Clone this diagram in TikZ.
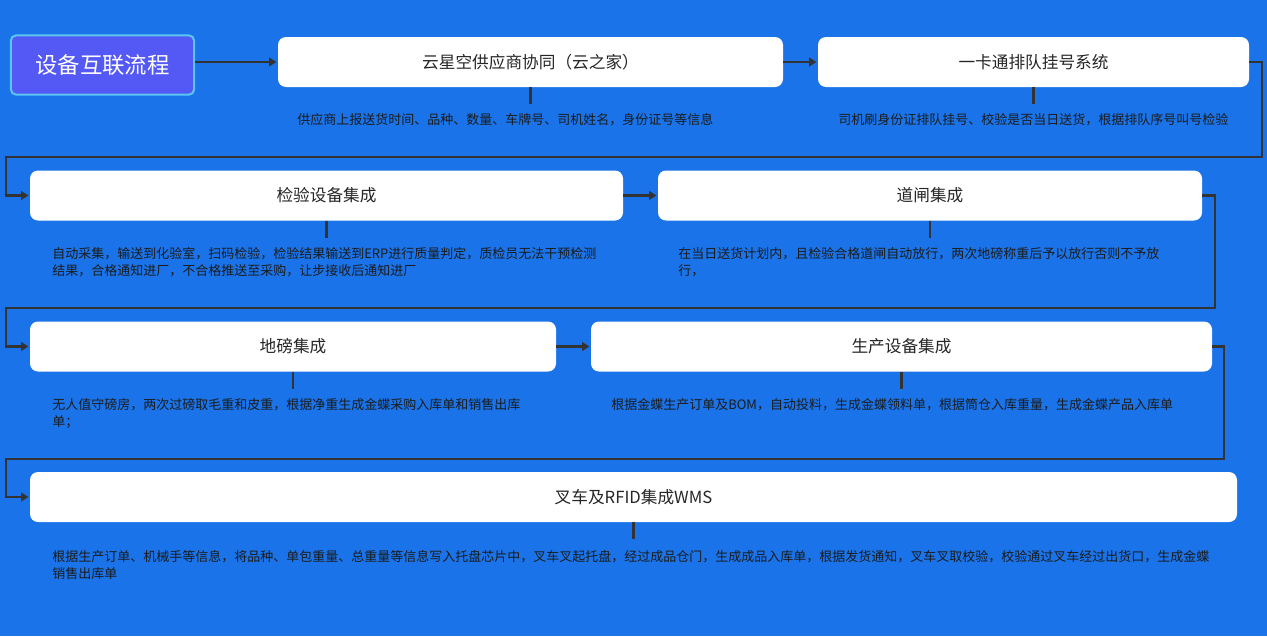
\documentclass[tikz,border=0pt]{standalone}
\usepackage{fontspec}
\setmainfont{Noto Sans CJK SC}
\usetikzlibrary{arrows.meta}
\definecolor{bgblue}{HTML}{1A73E8}
\definecolor{titlefill}{HTML}{5458F5}
\definecolor{titleedge}{HTML}{5CC6F2}
\definecolor{linegray}{HTML}{333333}
\definecolor{labelgray}{HTML}{262626}
\definecolor{descgray}{HTML}{1C1C1C}
\tikzset{
	procbox/.style={fill=white, rounded corners=6pt, minimum height=37.5pt, inner sep=0pt, text=labelgray, font=\fontsize{12.5}{14}\selectfont},
	titlebox/.style={fill=titlefill, draw=titleedge, line width=1.5pt, rounded corners=4pt, minimum width=137.5pt, minimum height=44.5pt, text=white, font=\fontsize{16.8}{20}\selectfont},
	desc/.style={anchor=west, align=left, inner sep=0pt, text=descgray, font=\fontsize{9.75}{13}\selectfont},
	flow/.style={draw=linegray, line width=2.2pt, shorten >=1pt, -{Triangle[length=5.5pt,width=6.5pt]}},
	stub/.style={draw=linegray, line width=2.2pt}
}
\begin{document}
\begin{tikzpicture}[x=0.75pt,y=-0.75pt]
			%Background
			\fill[bgblue] (0,0) rectangle (1267,636);
			\useasboundingbox (0,0) rectangle (1267,636);
			%Start node
			\coordinate (cTitle) at (102.5,65);
			\node[titlebox] (title) at (cTitle) {设备互联流程};
			%First row
			\coordinate (cCloud) at (530.5,62);
			\node[procbox, minimum width=378.75pt] (cloud) at (cCloud) {云星空供应商协同（云之家）};
			\coordinate (cQueue) at (1033.5,62);
			\node[procbox, minimum width=323.25pt] (queue) at (cQueue) {一卡通排队挂号系统};
			%Second row
			\coordinate (cInspect) at (326.5,195.5);
			\node[procbox, minimum width=444.75pt] (inspect) at (cInspect) {检验设备集成};
			\coordinate (cGate) at (930,195.5);
			\node[procbox, minimum width=408pt] (gate) at (cGate) {道闸集成};
			%Third row
			\coordinate (cScale) at (293,346.5);
			\node[procbox, minimum width=394.5pt] (scale) at (cScale) {地磅集成};
			\coordinate (cProd) at (901.5,346.5);
			\node[procbox, minimum width=465.75pt] (prod) at (cProd) {生产设备集成};
			%Fourth row
			\coordinate (cWms) at (633.5,497);
			\node[procbox, minimum width=905.25pt] (wms) at (cWms) {叉车及RFID集成WMS};
			%Small lines below the boxes
			\coordinate (sCloud) at ([yshift=-12.75pt]cloud.south);
			\coordinate (sQueue) at ([yshift=-12.75pt]queue.south);
			\coordinate (sInspect) at ([yshift=-12.75pt]inspect.south);
			\coordinate (sGate) at ([yshift=-12.75pt]gate.south);
			\coordinate (sScale) at ([yshift=-12.75pt]scale.south);
			\coordinate (sProd) at ([yshift=-12.75pt]prod.south);
			\coordinate (sWms) at ([yshift=-12.75pt]wms.south);
			\draw[stub] (cloud.south) -- (sCloud);
			\draw[stub] (queue.south) -- (sQueue);
			\draw[stub] (inspect.south) -- (sInspect);
			\draw[stub] (gate.south) -- (sGate);
			\draw[stub] (scale.south) -- (sScale);
			\draw[stub] (prod.south) -- (sProd);
			\draw[stub] (wms.south) -- (sWms);
			%Descriptions
			\node[desc] (dCloud) at (297,119.5) {供应商上报送货时间、品种、数量、车牌号、司机姓名，身份证号等信息};
			\node[desc] (dQueue) at (838,119.5) {司机刷身份证排队挂号、校验是否当日送货，根据排队序号叫号检验};
			\node[desc] (dInspect) at (52,262) {自动采集，输送到化验室，扫码检验，检验结果输送到ERP进行质量判定，质检员无法干预检测\\结果，合格通知进厂，不合格推送至采购，让步接收后通知进厂};
			\node[desc] (dGate) at (678,262) {在当日送货计划内，且检验合格道闸自动放行，两次地磅称重后予以放行否则不予放\\行，};
			\node[desc] (dScale) at (52,413.5) {无人值守磅房，两次过磅取毛重和皮重，根据净重生成金蝶采购入库单和销售出库\\单；};
			\node[desc] (dProd) at (611,405) {根据金蝶生产订单及BOM，自动投料，生成金蝶领料单，根据筒仓入库重量，生成金蝶产品入库单};
			\node[desc] (dWms) at (52,565) {根据生产订单、机械手等信息，将品种、单包重量、总重量等信息写入托盘芯片中，叉车叉起托盘，经过成品仓门，生成成品入库单，根据发货通知，叉车叉取校验，校验通过叉车经过出货口，生成金蝶\\销售出库单};
			%Arrows in the rows
			\draw[flow] (title.east |- cloud.west) -- (cloud.west);
			\draw[flow] (cloud.east) -- (queue.west);
			\draw[flow] (inspect.east) -- (gate.west);
			\draw[flow] (scale.east) -- (prod.west);
			%Arrows from one row to the next
			\coordinate (bendQ) at (1262,157);
			\coordinate (bendI) at (6,157);
			\draw[flow] (queue.east) -| (bendQ) -- (bendI) |- (inspect.west);
			\coordinate (bendG) at (1215,308);
			\coordinate (bendS) at (6,308);
			\draw[flow] (gate.east) -| (bendG) -- (bendS) |- (scale.west);
			\coordinate (bendP) at (1224,459);
			\coordinate (bendW) at (6,459);
			\draw[flow] (prod.east) -| (bendP) -- (bendW) |- (wms.west);
\end{tikzpicture}
\end{document}
